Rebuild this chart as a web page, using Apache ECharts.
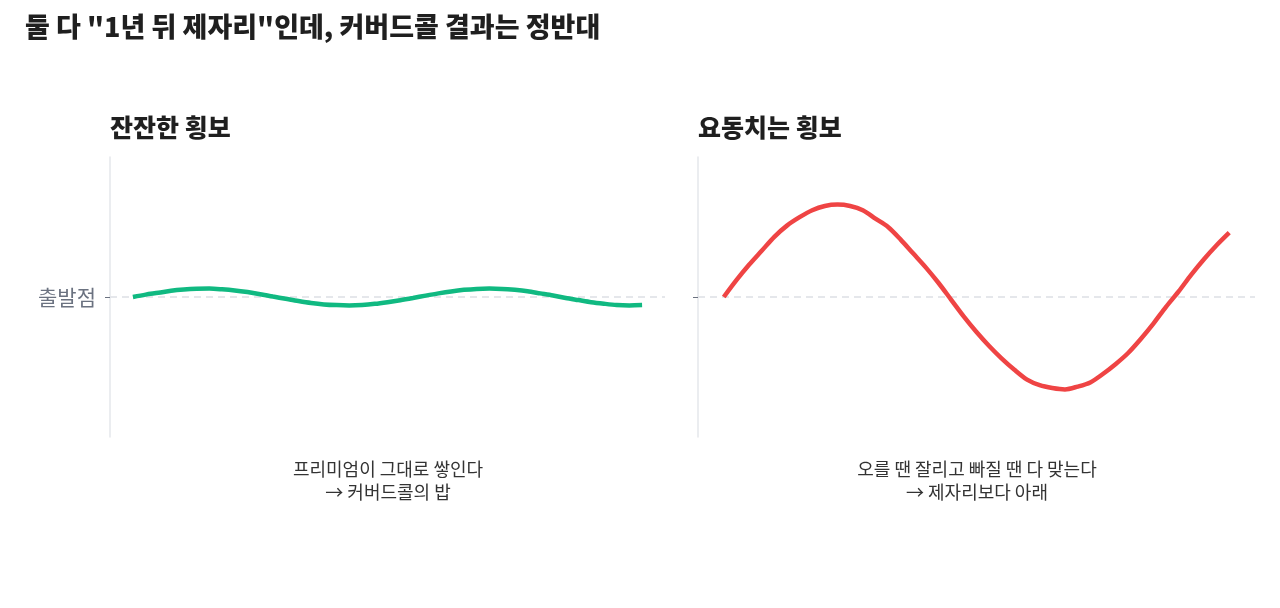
<!DOCTYPE html>
<html><head><meta charset="utf-8">
<script src="https://cdn.jsdelivr.net/npm/echarts@6/dist/echarts.min.js"></script>
<style>html,body{margin:0;padding:0;background:#fff}#c{width:1280px;height:608px}</style>
</head><body><div id="c"></div>
<script>
const xs = [0,0.025,0.05,0.075,0.1,0.125,0.15,0.175,0.2,0.225,0.25,0.275,0.3,0.325,0.35,0.375,0.4,0.425,0.45,0.475,0.5,0.525,0.55,0.575,0.6,0.625,0.65,0.675,0.7,0.725,0.75,0.775,0.8,0.825,0.85,0.875,0.9,0.925,0.95,0.975,1];
const calmValues = [0,0.017,0.03,0.045,0.054,0.059,0.06,0.055,0.047,0.035,0.02,0.003,-0.013,-0.029,-0.043,-0.053,-0.058,-0.06,-0.057,-0.049,-0.037,-0.023,-0.007,0.01,0.026,0.04,0.051,0.058,0.06,0.058,0.051,0.041,0.026,0.011,-0.007,-0.022,-0.037,-0.048,-0.057,-0.06,-0.058];
const wildValues = [0,0.12,0.23,0.33,0.43,0.51,0.57,0.62,0.65,0.66,0.65,0.62,0.56,0.50,0.41,0.31,0.21,0.10,-0.02,-0.14,-0.25,-0.35,-0.44,-0.52,-0.59,-0.63,-0.65,-0.66,-0.64,-0.61,-0.55,-0.48,-0.40,-0.30,-0.19,-0.07,0.04,0.16,0.27,0.37,0.46];
const yTickLabel = '출발점';
const mainTitle = '둘 다 "1년 뒤 제자리"인데, 커버드콜 결과는 정반대';
const panelTitles = ['잔잔한 횡보','요동치는 횡보'];
const captions = ['프리미엄이 그대로 쌓인다\n→ 커버드콜의 밥','오를 땐 잘리고 빠질 땐 다 맞는다\n→ 제자리보다 아래'];
const F = '"Noto Sans CJK KR","Noto Sans",sans-serif';
const chart = echarts.init(document.getElementById('c'));
function yAxis(i, showLabel){
  return {type:'value',gridIndex:i,min:-1,max:1,interval:1,
    axisLine:{show:true,onZero:false,lineStyle:{color:'#e5e7eb',width:1.5}},
    axisTick:{show:true,length:5,lineStyle:{color:'#6b7280'},customValues:[0]},
    splitLine:{show:false},
    axisLabel:{show:showLabel,customValues:[0],formatter:v=>v===0?yTickLabel:'',color:'#6b7280',fontSize:21,fontFamily:F,margin:14}};
}
function xAxis(i,min,max){
  return {type:'value',gridIndex:i,min:min,max:max,show:false};
}
function ser(i,data,color){
  return {type:'line',xAxisIndex:i,yAxisIndex:i,data:xs.map((x,k)=>[x,data[k]]),smooth:0.3,symbol:'none',
    lineStyle:{color:color,width:4.5},z:3,
    markLine:{silent:true,symbol:'none',label:{show:false},lineStyle:{color:'#e5e7eb',type:[7,5],width:2},data:[{yAxis:0}],z:1}};
}
chart.setOption({
  animation:false,
  title:[
    {text:mainTitle,left:20,top:8,textStyle:{fontFamily:F,fontSize:27,fontWeight:900,color:'#1f1f1f'}},
    {text:panelTitles[0],left:105,top:110,textStyle:{fontFamily:F,fontSize:25,fontWeight:900,color:'#1f1f1f'}},
    {text:panelTitles[1],left:693,top:110,textStyle:{fontFamily:F,fontSize:25,fontWeight:900,color:'#1f1f1f'}}
  ],
  graphic:[
    {type:'text',x:388,y:458,style:{text:captions[0],textAlign:'center',font:'18px '+F,fill:'#333',lineHeight:23}},
    {type:'text',x:977,y:458,style:{text:captions[1],textAlign:'center',font:'18px '+F,fill:'#333',lineHeight:23}}
  ],
  grid:[{left:110,width:555,top:157,height:280},{left:698,width:557,top:157,height:280}],
  xAxis:[xAxis(0,-0.045,1.045),xAxis(1,-0.051,1.051)],
  yAxis:[yAxis(0,true),yAxis(1,false)],
  series:[ser(0,calmValues,'#10b981'),ser(1,wildValues,'#ef4444')]
});
</script></body></html>
